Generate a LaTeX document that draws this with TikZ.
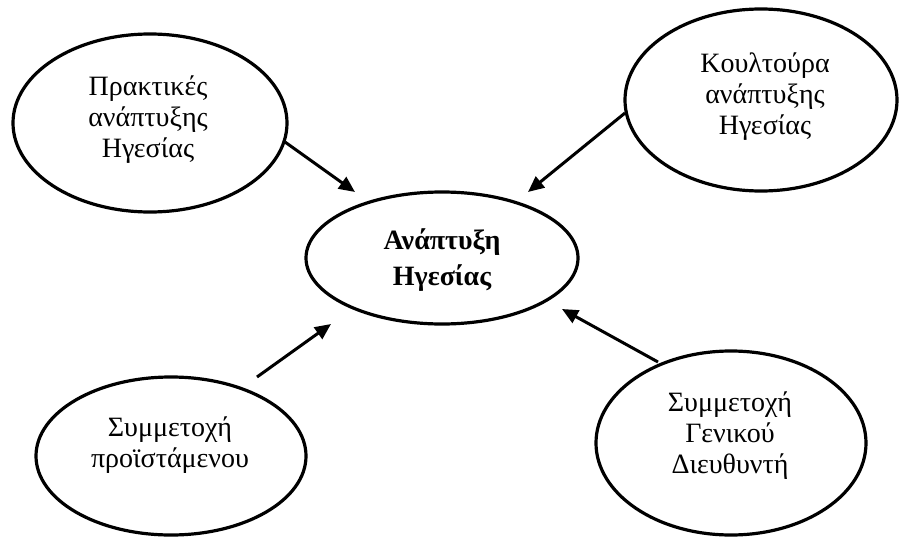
\documentclass[tikz,border=0pt]{standalone}
\usepackage{fontspec}
\setmainfont{Liberation Serif}
\usetikzlibrary{shapes.geometric,arrows.meta}
\begin{document}
\begin{tikzpicture}[x=1pt,y=-1pt,
  bubble/.style={draw=black, line width=3.2pt, ellipse, inner sep=0pt},
  plain text/.style={align=center, inner sep=0pt, font=\fontsize{28}{31}\selectfont},
  core text/.style={align=center, inner sep=0pt, font=\fontsize{28}{36}\selectfont\bfseries},
  link/.style={line width=3pt, -{Triangle[length=16pt,width=14pt]}}]
\useasboundingbox (0,0) rectangle (900,538);

% outlines
\node[bubble, minimum width=272pt, minimum height=132pt] (core) at (442,258) {};
\node[bubble, minimum width=274pt, minimum height=178pt] (prakt) at (150,123) {};
\node[bubble, minimum width=272pt, minimum height=182pt] (koult) at (761,100) {};
\node[bubble, minimum width=270pt, minimum height=158pt] (proist) at (171,456) {};
\node[bubble, minimum width=270pt, minimum height=184pt] (genik) at (731,443) {};

% texts
\node[core text] (coret) at (442,260) {Ανάπτυξη\\Ηγεσίας};
\node[plain text] (praktt) at (148,120) {Πρακτικές\\ανάπτυξης\\Ηγεσίας};
\node[plain text] (koultt) at (765,97) {Κουλτούρα\\ανάπτυξης\\Ηγεσίας};
\node[plain text] (proistt) at (170,445) {Συμμετοχή\\προϊστάμενου};
\node[plain text] (genikt) at (730,436) {Συμμετοχή\\Γενικού\\Διευθυντή};

% arrow ends
\coordinate (s1) at (285,142); \coordinate (e1) at (355,192);
\coordinate (s2) at (625,113); \coordinate (e2) at (528,192);
\coordinate (s3) at (257,377); \coordinate (e3) at (331,324);
\coordinate (s4) at (658,362); \coordinate (e4) at (562,309);

\draw[link] (s1) -- (e1);
\draw[link] (s2) -- (e2);
\draw[link] (s3) -- (e3);
\draw[link] (s4) -- (e4);
\end{tikzpicture}
\end{document}
